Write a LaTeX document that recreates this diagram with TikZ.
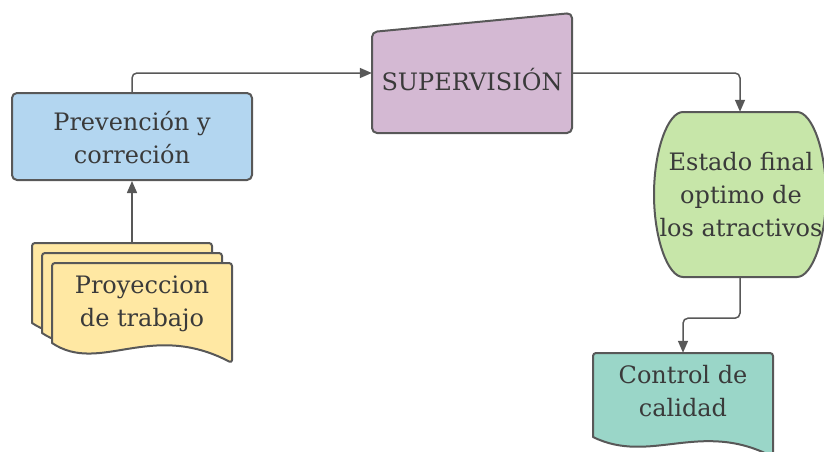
\documentclass[tikz,border=0pt]{standalone}
\usepackage{fontspec}
\setmainfont{DejaVu Serif}
\usetikzlibrary{arrows.meta}
\definecolor{edge}{HTML}{585858}
\definecolor{ink}{HTML}{3A3A3A}
\definecolor{fblue}{HTML}{B3D6F0}
\definecolor{fpurple}{HTML}{D4B9D3}
\definecolor{fyellow}{HTML}{FFE8A3}
\definecolor{fgreen}{HTML}{C7E6A9}
\definecolor{fteal}{HTML}{9AD6C8}
\tikzset{
  shapeline/.style={draw=edge, line width=2pt, line join=round},
  label/.style={text=ink, font=\fontsize{24}{33}\selectfont, align=center, inner sep=0pt},
  frame/.style={inner sep=0pt, minimum width=#1},
  flow/.style={draw=edge, line width=1.5pt, rounded corners=5pt,
    -{Triangle[length=12pt,width=10pt]}},
}
\begin{document}
\begin{tikzpicture}[x=1pt,y=-1pt]
\useasboundingbox (0,0) rectangle (824,452);

% Prevention box
\node (prev) [shapeline, fill=fblue, rounded corners=5pt, minimum width=240pt,
  minimum height=87pt, inner sep=0pt] at (132,136.5) {};
\node (prevt) [label] at (132,138) {Prevención y\\correción};

% Stacked documents
\node (proy) [frame=200pt, minimum height=120pt] at (132,303) {};
\foreach \d/\n in {0/back, 10/mid, 20/front}{
  \path[shapeline, fill=fyellow, rounded corners=3pt]
    (32+\d,343-20+\d) -- (32+\d,243+\d) -- (212+\d,243+\d) -- (212+\d,363-20+\d)
    [rounded corners=0pt] .. controls (130+\d,300+\d) and (80+\d,355+\d) .. (32+\d,323+\d) -- cycle;
}
\node (proyt) [label] at (142,304) {Proyeccion\\de trabajo};

% Supervision (manual input)
\node (sup) [frame=200pt, minimum height=120pt] at (472,73) {};
\path[shapeline, fill=fpurple, rounded corners=5pt]
  (372,133) -- (372,32) -- (572,13) -- (572,133) -- cycle;
\node (supt) [label] at (472,80) {SUPERVISIÓN};

% Final state (bulged sides)
\node (est) [frame=170pt, minimum height=165pt] at (740,194.5) {};
\path[shapeline, fill=fgreen]
  (683,112) -- (797,112)
  .. controls (812,112) and (826,150) .. (826,194.5)
  .. controls (826,239) and (812,277) .. (797,277)
  -- (683,277)
  .. controls (668,277) and (654,239) .. (654,194.5)
  .. controls (654,150) and (668,112) .. (683,112) -- cycle;
\node (estt) [label] at (741,195) {Estado final\\optimo de\\los atractivos};

% Quality control document
\node (ctrl) [frame=180pt, minimum height=84pt] at (683,395) {};
\path[shapeline, fill=fteal, rounded corners=3pt]
  (593,437) -- (593,353) -- (773,353) -- (773,457)
  [rounded corners=0pt] .. controls (700,420) and (650,465) .. (593,437) -- cycle;
\node (ctrlt) [label] at (683,391) {Control de\\calidad};

% Connectors
\draw[flow] (proy.north) -- (prev.south);
\draw[flow] (prev.north) |- (sup.west);
\draw[flow] (sup.east) -| (est.north);
\draw[flow] (est.south) -- ++(0,41) -| (ctrl.north);
\end{tikzpicture}
\end{document}
